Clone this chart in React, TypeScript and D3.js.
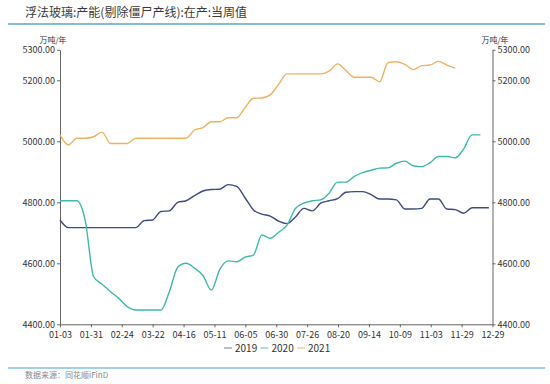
import React, { useEffect, useRef } from 'react';
import * as d3 from 'd3';

// weekly capacity values, 万吨/年 (week 0 = 01-03)
const YEARS = ['2019', '2020', '2021'];
const S2019 = [
  4742, 4717, 4717, 4717, 4717, 4717, 4717, 4717, 4717, 4717, 4740, 4742, 4770, 4772, 4800, 4805,
  4822, 4837, 4842, 4843, 4858, 4852, 4815, 4775, 4761, 4755, 4738, 4730, 4752, 4780, 4772, 4797,
  4805, 4812, 4833, 4835, 4835, 4825, 4811, 4811, 4808, 4778, 4778, 4780, 4811, 4811, 4778, 4776,
  4764, 4782, 4782, 4782,
];
const S2020 = [
  4805, 4805, 4805, 4740, 4556, 4531, 4507, 4485, 4458, 4447, 4447, 4447, 4447, 4507, 4587, 4600,
  4584, 4560, 4512, 4580, 4608, 4605, 4620, 4627, 4693, 4682, 4702, 4725, 4780, 4797, 4805, 4808,
  4830, 4866, 4866, 4885, 4897, 4905, 4912, 4913, 4928, 4935, 4920, 4917, 4930, 4950, 4950, 4946,
  4975, 5021, 5021,
];
const S2021 = [
  5021, 4988, 5010, 5010, 5015, 5030, 4993, 4993, 4993, 5010, 5010, 5010, 5010, 5010, 5010, 5010,
  5037, 5045, 5064, 5064, 5077, 5077, 5110, 5141, 5142, 5152, 5187, 5221, 5221, 5221, 5221, 5221,
  5230, 5254, 5232, 5210, 5210, 5210, 5195, 5258, 5261, 5252, 5235, 5248, 5250, 5262, 5250, 5240,
];
const X_TICKS = [
  '01-03', '01-31', '02-24', '03-22', '04-16', '05-11', '06-05', '06-30',
  '07-26', '08-20', '09-14', '10-09', '11-03', '11-29', '12-29',
];
const Y_TICKS = [4400, 4600, 4800, 5000, 5200, 5300];

const COLORS = ['#3e4c82', '#3fb9aa', '#efb263'];
const LEGEND_COLORS = ['#b9bccd', '#a9dfd8', '#f6dcbb'];
const FONT = '"Noto Sans CJK SC", "Noto Sans", sans-serif';

export default function App() {
  const ref = useRef<SVGSVGElement>(null);

  useEffect(() => {
    const svg = d3.select(ref.current);
    svg.selectAll('*').remove();

    const left = 60;
    const right = 492.5;
    const top = 49.8;
    const bottom = 324.3;

    const x = d3.scaleLinear().domain([0, 360 / 7]).range([left, right]);
    const xp = d3.scalePoint<string>().domain(X_TICKS).range([left, right]);
    const y = d3.scaleLinear().domain([4400, 5300]).range([bottom, top]);

    // title + rules
    svg.append('text')
      .attr('x', 25).attr('y', 17)
      .attr('font-family', FONT).attr('font-size', 12).attr('fill', '#3a3a3a')
      .text('浮法玻璃:产能(剔除僵尸产线):在产:当周值');
    svg.append('line')
      .attr('x1', 8).attr('x2', 545).attr('y1', 24).attr('y2', 24)
      .attr('stroke', '#5ba4c8').attr('stroke-width', 1.5);
    svg.append('line')
      .attr('x1', 8).attr('x2', 545).attr('y1', 368).attr('y2', 368)
      .attr('stroke', '#4a9fd4').attr('stroke-width', 1.2);
    svg.append('text')
      .attr('x', 25).attr('y', 378)
      .attr('font-family', FONT).attr('font-size', 8).attr('fill', '#888')
      .text('数据来源：同花顺iFinD');

    const styleAxis = (s: d3.Selection<SVGGElement, unknown, null, undefined>) => {
      s.select('.domain').attr('stroke', '#666');
      s.selectAll('.tick line').attr('stroke', '#666');
      s.selectAll('.tick text').attr('fill', '#333').attr('font-size', 9).attr('font-family', FONT);
    };

    const fmt = d3.format('.2f');
    svg.append('g')
      .attr('transform', `translate(${left},0)`)
      .call(d3.axisLeft(y).tickValues(Y_TICKS).tickFormat((d) => fmt(d as number)).tickSize(3).tickSizeOuter(0).tickPadding(2))
      .call(styleAxis);
    svg.append('g')
      .attr('transform', `translate(${right},0)`)
      .call(d3.axisRight(y).tickValues(Y_TICKS).tickFormat((d) => fmt(d as number)).tickSize(3).tickSizeOuter(0).tickPadding(2))
      .call(styleAxis);
    svg.append('g')
      .attr('transform', `translate(0,${bottom})`)
      .call(d3.axisBottom(xp).tickSize(3).tickSizeOuter(0).tickPadding(4))
      .call(styleAxis);

    svg.append('text')
      .attr('x', 53).attr('y', 43).attr('text-anchor', 'middle')
      .attr('font-family', FONT).attr('font-size', 8).attr('fill', '#333')
      .text('万吨/年');
    svg.append('text')
      .attr('x', 495).attr('y', 43).attr('text-anchor', 'middle')
      .attr('font-family', FONT).attr('font-size', 8).attr('fill', '#333')
      .text('万吨/年');

    const line = d3.line<number>()
      .x((_, i) => x(i))
      .y((d) => y(d))
      .curve(d3.curveMonotoneX);

    [S2019, S2020, S2021].forEach((s, i) => {
      svg.append('path')
        .datum(s)
        .attr('fill', 'none')
        .attr('stroke', COLORS[i])
        .attr('stroke-width', 1.4)
        .attr('stroke-linejoin', 'round')
        .attr('d', line);
    });

    // legend
    const lg = svg.append('g').attr('transform', 'translate(224,348)');
    YEARS.forEach((yr, i) => {
      const g = lg.append('g').attr('transform', `translate(${i * 36.5},0)`);
      g.append('line')
        .attr('x1', 0).attr('x2', 8).attr('y1', 0).attr('y2', 0)
        .attr('stroke', LEGEND_COLORS[i]).attr('stroke-width', 2);
      g.append('text')
        .attr('x', 11).attr('y', 3.5)
        .attr('font-family', FONT).attr('font-size', 10).attr('fill', '#333')
        .text(yr);
    });
  }, []);

  return (
    <svg
      ref={ref}
      width={550}
      height={384}
      style={{ position: 'absolute', left: 0, top: 0, background: '#fff' }}
    />
  );
}
